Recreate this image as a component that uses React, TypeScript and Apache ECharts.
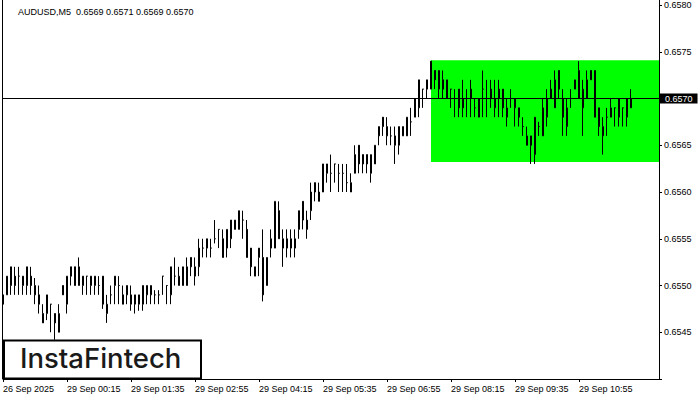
import React, { useEffect, useRef } from 'react';
import * as echarts from 'echarts';

// [open, high, low, close] for each M5 bar
const candles: number[][] = [
  [0.6549, 0.6550, 0.6548, 0.6548],
  [0.6549, 0.6551, 0.6549, 0.6551],
  [0.6550, 0.6552, 0.6549, 0.6552],
  [0.6551, 0.6552, 0.6549, 0.6550],
  [0.6551, 0.6552, 0.6549, 0.6551],
  [0.6550, 0.6551, 0.6549, 0.6551],
  [0.6550, 0.6552, 0.6549, 0.6552],
  [0.6551, 0.6552, 0.6549, 0.6550],
  [0.6549, 0.65508, 0.6548, 0.6550],
  [0.6549, 0.6550, 0.6547, 0.6548],
  [0.6547, 0.6548, 0.6546, 0.6546],
  [0.6547, 0.6549, 0.65463, 0.6549],
  [0.6548, 0.6548, 0.6545, 0.6548],
  [0.6547, 0.6547, 0.65442, 0.6546],
  [0.6545, 0.6548, 0.6545, 0.6547],
  [0.6550, 0.6550, 0.6549, 0.6549],
  [0.6548, 0.6551, 0.6547, 0.6551],
  [0.6552, 0.6552, 0.6550, 0.6551],
  [0.6552, 0.6552, 0.6550, 0.6550],
  [0.6550, 0.6553, 0.6550, 0.6552],
  [0.6550, 0.6551, 0.6549, 0.6551],
  [0.6551, 0.6551, 0.6549, 0.6551],
  [0.6550, 0.6551, 0.6549, 0.6551],
  [0.6550, 0.6551, 0.6549, 0.6551],
  [0.6550, 0.6551, 0.6549, 0.6550],
  [0.6551, 0.6551, 0.65475, 0.6548],
  [0.6547, 0.6549, 0.6546, 0.6548],
  [0.6549, 0.6550, 0.6548, 0.6549],
  [0.6550, 0.6551, 0.6548, 0.6551],
  [0.6550, 0.6551, 0.6548, 0.6550],
  [0.6549, 0.6550, 0.6548, 0.6548],
  [0.6549, 0.6550, 0.6548, 0.6550],
  [0.6548, 0.6550, 0.65473, 0.6549],
  [0.6548, 0.6549, 0.6547, 0.6549],
  [0.6548, 0.6549, 0.65473, 0.6549],
  [0.6548, 0.6550, 0.65473, 0.6550],
  [0.6549, 0.6550, 0.6548, 0.6550],
  [0.6549, 0.6550, 0.6548, 0.6550],
  [0.6549, 0.65495, 0.6548, 0.6549],
  [0.6549, 0.65495, 0.6548, 0.6549],
  [0.6551, 0.6551, 0.6549, 0.6551],
  [0.6550, 0.6550, 0.6548, 0.6550],
  [0.6549, 0.6552, 0.6548, 0.6552],
  [0.6551, 0.6553, 0.6550, 0.6551],
  [0.6550, 0.6552, 0.6550, 0.6551],
  [0.6550, 0.6552, 0.6550, 0.6552],
  [0.6550, 0.6553, 0.6550, 0.6552],
  [0.6553, 0.6553, 0.6551, 0.6552],
  [0.6551, 0.6553, 0.6550, 0.6552],
  [0.6552, 0.6555, 0.6551, 0.6554],
  [0.6554, 0.6555, 0.6553, 0.6554],
  [0.6554, 0.6555, 0.6553, 0.6555],
  [0.6554, 0.6555, 0.6553, 0.6554],
  [0.6555, 0.6557, 0.65545, 0.6555],
  [0.6556, 0.6556, 0.6554, 0.6556],
  [0.6555, 0.6556, 0.6553, 0.6553],
  [0.6554, 0.6556, 0.6553, 0.6556],
  [0.6555, 0.6557, 0.6554, 0.6557],
  [0.6556, 0.6557, 0.6556, 0.6557],
  [0.6556, 0.6558, 0.6556, 0.6558],
  [0.6557, 0.6558, 0.6555, 0.6557],
  [0.6556, 0.6557, 0.6553, 0.6553],
  [0.6554, 0.6554, 0.6551, 0.6552],
  [0.6551, 0.6552, 0.6551, 0.6552],
  [0.6553, 0.6554, 0.6551, 0.6554],
  [0.6553, 0.6556, 0.65483, 0.6549],
  [0.6550, 0.6553, 0.6550, 0.6553],
  [0.6554, 0.6556, 0.6553, 0.6555],
  [0.6554, 0.6559, 0.6554, 0.6559],
  [0.6558, 0.6559, 0.6555, 0.6555],
  [0.6554, 0.6556, 0.6552, 0.6555],
  [0.6554, 0.6556, 0.6553, 0.6555],
  [0.6554, 0.6556, 0.6553, 0.6555],
  [0.6554, 0.6556, 0.6553, 0.6555],
  [0.6556, 0.6558, 0.6555, 0.6558],
  [0.6559, 0.6559, 0.6556, 0.6557],
  [0.6556, 0.6558, 0.6555, 0.6557],
  [0.6558, 0.6561, 0.6557, 0.6560],
  [0.6561, 0.6561, 0.6559, 0.6560],
  [0.6559, 0.6561, 0.6559, 0.6560],
  [0.6560, 0.6563, 0.6560, 0.6563],
  [0.6562, 0.6563, 0.6561, 0.6563],
  [0.6562, 0.6564, 0.6560, 0.6562],
  [0.6563, 0.6563, 0.6561, 0.6563],
  [0.6562, 0.6563, 0.6560, 0.6562],
  [0.6562, 0.6563, 0.6560, 0.6562],
  [0.6561, 0.6563, 0.6560, 0.6561],
  [0.6560, 0.6562, 0.6560, 0.6561],
  [0.6562, 0.6565, 0.6562, 0.6564],
  [0.6565, 0.6565, 0.6562, 0.6563],
  [0.6564, 0.6564, 0.6562, 0.6563],
  [0.6564, 0.6564, 0.6562, 0.6563],
  [0.6562, 0.6564, 0.6561, 0.6564],
  [0.6563, 0.6565, 0.6563, 0.6565],
  [0.6566, 0.6567, 0.6565, 0.6567],
  [0.6568, 0.6568, 0.6566, 0.6567],
  [0.6566, 0.6568, 0.6565, 0.6567],
  [0.6566, 0.6567, 0.6565, 0.6566],
  [0.6565, 0.6567, 0.6563, 0.6566],
  [0.6565, 0.6567, 0.6564, 0.6567],
  [0.6566, 0.6567, 0.6566, 0.6567],
  [0.6566, 0.6568, 0.6566, 0.6568],
  [0.65675, 0.6569, 0.6566, 0.65675],
  [0.6568, 0.6570, 0.6568, 0.6570],
  [0.6569, 0.6572, 0.6568, 0.6572],
  [0.6571, 0.6571, 0.6569, 0.6571],
  [0.6571, 0.6572, 0.6570, 0.6572],
  [0.6571, 0.6574, 0.6571, 0.6574],
  [0.6573, 0.6573, 0.6571, 0.6572],
  [0.6571, 0.6573, 0.6570, 0.6573],
  [0.6572, 0.6573, 0.6570, 0.6571],
  [0.6570, 0.6572, 0.6570, 0.6572],
  [0.6571, 0.6571, 0.6569, 0.6571],
  [0.6570, 0.6571, 0.6568, 0.6570],
  [0.6571, 0.6571, 0.6568, 0.6569],
  [0.6570, 0.6572, 0.6568, 0.6569],
  [0.6570, 0.6571, 0.6568, 0.6570],
  [0.6571, 0.6572, 0.6568, 0.6570],
  [0.6569, 0.6570, 0.6568, 0.6569],
  [0.6568, 0.6570, 0.6568, 0.6570],
  [0.6571, 0.6573, 0.6568, 0.6571],
  [0.6570, 0.6572, 0.6568, 0.6570],
  [0.6571, 0.6572, 0.6569, 0.6570],
  [0.6569, 0.6572, 0.6568, 0.6570],
  [0.6571, 0.6572, 0.6568, 0.6570],
  [0.6571, 0.6571, 0.6568, 0.6569],
  [0.6568, 0.6570, 0.6567, 0.6569],
  [0.6570, 0.6571, 0.6569, 0.6570],
  [0.6569, 0.6570, 0.6567, 0.6570],
  [0.6569, 0.6569, 0.6567, 0.6568],
  [0.6567, 0.6568, 0.6566, 0.6567],
  [0.6566, 0.6567, 0.6565, 0.6565],
  [0.6566, 0.6566, 0.6563, 0.6565],
  [0.6564, 0.6568, 0.6563, 0.6568],
  [0.6567, 0.65675, 0.6566, 0.6567],
  [0.6566, 0.6570, 0.6566, 0.6569],
  [0.6568, 0.6571, 0.6567, 0.6570],
  [0.6571, 0.6572, 0.6570, 0.6570],
  [0.6569, 0.6573, 0.6569, 0.6572],
  [0.6573, 0.6573, 0.6570, 0.6571],
  [0.6570, 0.6571, 0.6566, 0.6568],
  [0.6567, 0.6570, 0.6566, 0.6569],
  [0.6570, 0.6571, 0.6569, 0.6570],
  [0.6571, 0.6572, 0.6571, 0.6572],
  [0.6573, 0.6574, 0.6570, 0.6570],
  [0.6569, 0.6572, 0.6566, 0.6571],
  [0.6570, 0.6573, 0.6570, 0.6572],
  [0.6573, 0.6573, 0.6572, 0.6572],
  [0.6573, 0.6573, 0.6568, 0.6568],
  [0.6569, 0.6569, 0.6566, 0.6567],
  [0.6566, 0.6568, 0.6564, 0.6567],
  [0.6568, 0.6569, 0.6566, 0.6568],
  [0.6568, 0.6570, 0.6568, 0.6569],
  [0.6569, 0.6569, 0.6567, 0.6569],
  [0.6568, 0.6570, 0.6567, 0.6570],
  [0.6569, 0.6569, 0.6567, 0.6569],
  [0.6568, 0.6570, 0.6567, 0.6570],
  [0.6569, 0.6571, 0.6569, 0.6570],
];

const tickLabels = [
  '26 Sep 2025', '29 Sep 00:15', '29 Sep 01:35', '29 Sep 02:55', '29 Sep 04:15',
  '29 Sep 05:35', '29 Sep 06:55', '29 Sep 08:15', '29 Sep 09:35', '29 Sep 10:55',
];
const barsPerTick = 16;
const slotCount = 165; // bars + empty right margin of the chart

const titleText = 'AUDUSD,M5  0.6569 0.6571 0.6569 0.6570';
const bidPrice = 0.657;
const rectLow = 0.65632;
const rectHigh = 0.65741;
const rectStartBar = 107;

const yMin = 0.654;
const yMax = 0.6580535;
const yStep = 0.0005;

const FONT = '"Liberation Sans", Arial, sans-serif';

export default function App() {
  const ref = useRef<HTMLDivElement>(null);
  useEffect(() => {
    document.body.style.margin = '0';
    const chart = echarts.init(ref.current!, null, { renderer: 'svg' });
    const cats = Array.from({ length: slotCount }, (_, i) => String(i));
    const data = candles.map(([o, h, l, c]) => [o, c, l, h]);
    const showTick = (index: number) =>
      index % barsPerTick === 0 && index / barsPerTick < tickLabels.length;

    chart.setOption({
      animation: false,
      textStyle: { fontFamily: FONT },
      title: {
        text: titleText,
        left: 18,
        top: 7,
        padding: 0,
        textStyle: { fontSize: 9, fontWeight: 'normal', color: '#000', fontFamily: FONT },
      },
      grid: { left: 3, right: 41, top: 0, bottom: 21, show: false },
      xAxis: {
        type: 'category',
        data: cats,
        boundaryGap: false,
        axisLine: { lineStyle: { color: '#000', width: 1 } },
        axisTick: { length: 3, interval: showTick, lineStyle: { color: '#000' } },
        axisLabel: {
          interval: showTick,
          formatter: (_v: string, i: number) => tickLabels[i / barsPerTick] ?? '',
          align: 'left',
          fontSize: 9,
          color: '#000',
          margin: 5,
          fontFamily: FONT,
        },
        splitLine: { show: false },
      },
      yAxis: {
        type: 'value',
        position: 'right',
        min: yMin,
        max: yMax,
        interval: yStep,
        axisLine: { show: true, lineStyle: { color: '#000', width: 1 } },
        axisTick: { show: true, length: 3, lineStyle: { color: '#000' } },
        axisLabel: {
          formatter: (v: number) => (v < 0.65425 || v > 0.65802 ? '' : v.toFixed(4)),
          fontSize: 9,
          color: '#000',
          margin: 5,
          fontFamily: FONT,
          showMaxLabel: false,
        },
        splitLine: { show: false },
      },
      series: [
        {
          type: 'line',
          data: [],
          z: 1,
          markArea: {
            silent: true,
            itemStyle: { color: '#00ff00' },
            data: [[
              { xAxis: String(rectStartBar), yAxis: rectHigh },
              { xAxis: String(slotCount - 1), yAxis: rectLow },
            ]],
          },
        },
        {
          type: 'candlestick',
          data,
          z: 2,
          barWidth: 2,
          itemStyle: {
            color: '#ffffff',
            color0: '#000000',
            borderColor: '#000000',
            borderColor0: '#000000',
            borderWidth: 1,
          },
          markLine: {
            silent: true,
            symbol: ['none', 'none'],
            precision: 4,
            lineStyle: { color: '#000', width: 1, type: 'solid' },
            label: {
              show: true,
              position: 'end',
              formatter: bidPrice.toFixed(4),
              color: '#fff',
              backgroundColor: '#000',
              padding: [1, 5, 0, 5],
              fontSize: 9,
              lineHeight: 9,
              distance: 1,
              fontFamily: FONT,
            },
            data: [{ yAxis: bidPrice }],
          },
        },
      ],
      graphic: [
        {
          type: 'line',
          z: 50,
          shape: { x1: 2.5, y1: 0, x2: 2.5, y2: 379 },
          style: { stroke: '#000', lineWidth: 1 },
        },
        {
          type: 'rect',
          z: 100,
          shape: { x: 4, y: 340.5, width: 197, height: 38 },
          style: { fill: '#fff', stroke: '#000', lineWidth: 2 },
        },
        {
          type: 'text',
          z: 101,
          x: 20,
          y: 358,
          style: {
            text: 'InstaFintech',
            fill: '#1a1a1a',
            font: '500 27.5px Inter, "Noto Sans", sans-serif',
            align: 'left',
            verticalAlign: 'middle',
          },
        },
      ],
    });
    return () => chart.dispose();
  }, []);
  return <div ref={ref} style={{ width: 700, height: 400 }} />;
}
